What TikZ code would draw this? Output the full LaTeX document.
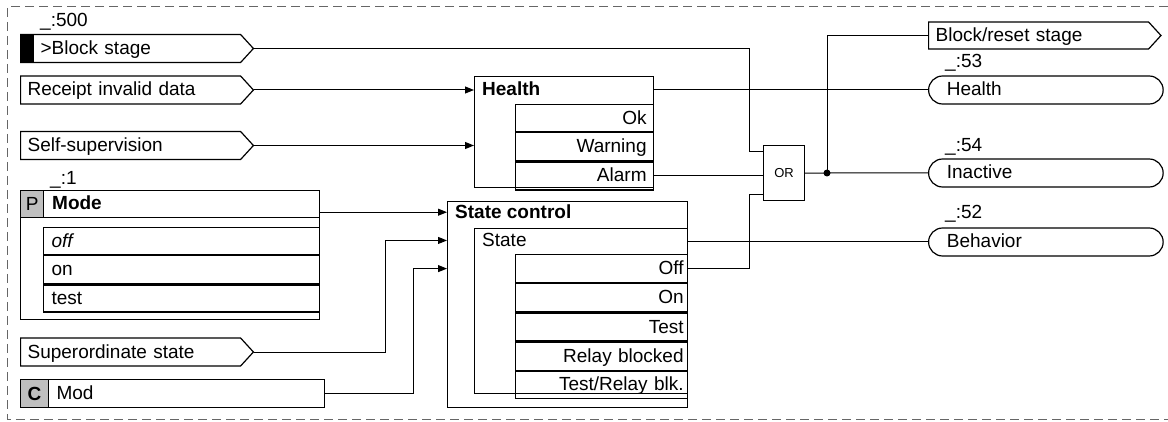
\documentclass[tikz,border=0pt]{standalone}
\usepackage{fontspec}
\setmainfont{Liberation Sans}
\usetikzlibrary{shapes.symbols,shapes.misc,arrows.meta}
\newcommand\sz{\fontsize{19}{22}\selectfont}

\begin{document}
\begin{tikzpicture}[x=1pt,y=-1pt,font=\sz,
  blk/.style={draw, line width=1.2pt, inner sep=0pt, anchor=north west},
  rowl/.style={blk, inner xsep=8pt, align=left, text height=15pt, text depth=3pt},
  rowr/.style={blk, align=right, text height=15pt, text depth=3pt},
  insig/.style={draw, line width=1.2pt, signal, signal to=east, signal pointer angle=95,
    anchor=west, inner xsep=7pt, inner ysep=0pt, text width=206pt, align=left,
    minimum height=28pt, text height=15pt, text depth=3pt},
  outsig/.style={draw, line width=1.2pt, rounded rectangle, anchor=west,
    inner xsep=15pt, inner ysep=0pt, text width=198pt, align=left,
    minimum height=28pt, text height=15pt, text depth=3pt},
  txt/.style={anchor=base west, inner sep=0pt},
  wire/.style={line width=1pt},
  arr/.style={wire, -{Triangle[length=9pt,width=7pt]}}]
\useasboundingbox (0,0) rectangle (1168,422);
\draw[black!60, line width=1pt, dash pattern=on 9pt off 5pt] (1168,7) -- (7,7) -- (7,419) -- (1168,419);

\coordinate (busa) at (749,0);

% inputs
\node[txt] (t500) at (40,27) {\_:500};
\node[insig] (iblk) at (20,48.5) {\hspace*{13pt}>Block stage};
\fill (iblk.north west) rectangle ([xshift=14pt]iblk.south west);
\node[insig] (ircpt) at (20,90) {Receipt invalid data};
\node[insig] (iself) at (20,145.5) {Self-supervision};
\node[insig] (isup) at (20,352) {Superordinate state};

% mode parameter
\node[txt] (t1) at (50,185) {\_:1};
\node[blk, minimum width=299pt, minimum height=129pt] (mode) at (20,190) {};
\node[blk, minimum width=299pt, minimum height=27pt] (modehd) at (20,190) {};
\node[blk, fill=black!25, minimum width=23pt, minimum height=27pt] (modep) at (20,190) {P};
\node[txt, font=\sz\bfseries] (modetxt) at (52,210) {Mode};
\node[rowl, text width=260pt, minimum height=27pt] (moff) at (43,227) {\itshape off};
\node[rowl, text width=260pt, minimum height=28pt] (mon) at (moff.south west) {on};
\node[rowl, text width=260pt, minimum height=27pt] (mtest) at (mon.south west) {test};

\node[blk, fill=black!25, minimum width=28pt, minimum height=28pt, font=\sz\bfseries] (modc) at (20,379) {C};
\node[rowl, text width=260pt, minimum height=28pt] (modf) at (48,379) {Mod};

% health
\node[blk, minimum width=179pt, minimum height=111pt] (hlth) at (474,76) {};
\node[txt, font=\sz\bfseries] (hlthtxt) at (482,96) {Health};
\node[rowr, inner xsep=7pt, text width=124pt, minimum height=27pt] (hok) at (515,104) {Ok};
\node[rowr, inner xsep=7pt, text width=124pt, minimum height=28pt] (hwarn) at (hok.south west) {Warning};
\node[rowr, inner xsep=7pt, text width=124pt, minimum height=28pt] (halarm) at (hwarn.south west) {Alarm};

% state control
\node[blk, minimum width=240pt, minimum height=206pt] (sctl) at (447,201) {};
\node[txt, font=\sz\bfseries] (sctltxt) at (455,219) {State control};
\node[blk, minimum width=213pt, minimum height=165pt] (sinner) at (474,228) {};
\node[txt] (stxt) at (482,247) {State};
\node[rowr, inner xsep=4pt, text width=164pt, minimum height=28pt] (soff) at (515,254) {Off};
\node[rowr, inner xsep=4pt, text width=164pt, minimum height=28pt] (son) at (soff.south west) {On};
\node[rowr, inner xsep=4pt, text width=164pt, minimum height=28pt] (stest) at (son.south west) {Test};
\node[rowr, inner xsep=4pt, text width=164pt, minimum height=28pt] (srel) at (stest.south west) {Relay blocked};
\node[rowr, inner xsep=4pt, text width=164pt, minimum height=27pt] (strel) at (srel.south west) {Test/Relay blk.};

% or gate
\node[blk, minimum width=41pt, minimum height=55pt, font=\fontsize{13}{15}\selectfont] (orgate) at (763,145) {OR};
\node[circle, fill, inner sep=0pt, minimum size=7pt] (jdot) at (827,173) {};

% outputs
\node[insig, minimum height=27pt] (oblk) at (928,35.5) {Block/reset stage};
\node[txt] (t53) at (945,68) {\_:53};
\node[outsig] (ohlth) at (928,90) {Health};
\node[txt] (t54) at (945,152) {\_:54};
\node[outsig] (oinact) at (928,173) {Inactive};
\node[txt] (t52) at (945,219) {\_:52};
\node[outsig] (obeh) at (928,242) {Behavior};

% wires
\draw[arr] (ircpt.east) -- (ircpt.east -| hlth.west);
\draw[arr] (iself.east) -- (iself.east -| hlth.west);
\draw[arr] (modehd.east |- sctltxt) -- (sctltxt -| sctl.west);
\draw[arr] (isup.east) -- ++(131,0) |- (stxt.west -| sctl.west);
\draw[arr] (modf.east) -- ++(88,0) |- (soff.west -| sctl.west);
\draw[wire] (iblk.east) -- (iblk.east -| busa) |- ([yshift=-7pt]orgate.north west);
\draw[wire] (soff.east) -- (soff.east -| busa) |- ([yshift=7pt]orgate.south west);
\draw[wire] (halarm.east) -- (halarm.east -| orgate.west);
\draw[wire] (ohlth.west -| hlth.east) -- (ohlth.west);
\draw[wire] (orgate.east) -- (jdot.center) -- (oinact.west);
\draw[wire] (jdot.center) |- (oblk.west);
\draw[wire] (obeh.west -| sinner.east) -- (obeh.west);
\end{tikzpicture}
\end{document}
